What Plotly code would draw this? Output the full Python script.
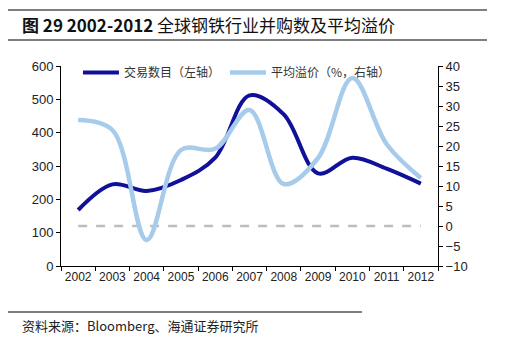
import plotly.graph_objects as go

years = ["2002", "2003", "2004", "2005", "2006", "2007", "2008", "2009", "2010", "2011", "2012"]
deals = [168, 245, 225, 258, 325, 512, 455, 278, 325, 292, 247]
premium = [26.5, 24.0, -3.5, 19.0, 19.3, 29.0, 10.5, 17.0, 37.0, 20.5, 12.0]
baseline = [0] * len(years)

dark = "#10109a"
light = "#a7cbea"
font_lat = "Liberation Sans, Arial, sans-serif"
font_cjk = "Noto Sans CJK SC, sans-serif"

fig = go.Figure()
fig.add_trace(go.Scatter(x=years, y=baseline, yaxis="y2", mode="lines",
                         line=dict(color="#bdbdbd", width=2.5, dash="dash"),
                         showlegend=False, hoverinfo="skip"))
fig.add_trace(go.Scatter(x=years, y=deals, name="交易数目（左轴）", mode="lines",
                         line=dict(color=dark, width=4, shape="spline", smoothing=1.0)))
fig.add_trace(go.Scatter(x=years, y=premium, name="平均溢价（%，右轴）", yaxis="y2", mode="lines",
                         line=dict(color=light, width=4.5, shape="spline", smoothing=1.0)))

def axis_common(size):
    return dict(showgrid=False, zeroline=False, showline=True, linecolor="black", linewidth=1,
                ticks="outside", ticklen=4, tickcolor="black",
                tickfont=dict(family=font_lat, size=size, color="#222"))

fig.update_layout(
    width=505, height=337,
    margin=dict(l=61, r=67, t=66, b=71),
    paper_bgcolor="white", plot_bgcolor="white",
    xaxis=dict(type="category", tickson="boundaries", range=[-0.5, 10.5], tickangle=0, **axis_common(12)),
    yaxis=dict(range=[0, 600], dtick=100, **axis_common(13)),
    yaxis2=dict(range=[-10, 40], dtick=5, overlaying="y", side="right", **axis_common(13)),
    legend=dict(orientation="h", x=0.045, y=1.04, yanchor="top", xanchor="left",
                font=dict(family=font_cjk, size=12, color="#333"),
                bgcolor="rgba(0,0,0,0)", itemwidth=36, traceorder="normal"),
    showlegend=True,
)

def px(x):
    return (x - 61) / 377.0

def py(y):
    return (266 - y) / 200.0

for (x0, x1, y) in [(8, 487, 10), (8, 487, 40), (8, 362, 312)]:
    fig.add_shape(type="line", xref="paper", yref="paper", x0=px(x0), x1=px(x1), y0=py(y), y1=py(y),
                  line=dict(color="black", width=1.2))

fig.add_annotation(xref="paper", yref="paper", x=px(20), y=py(25), xanchor="left", yanchor="middle",
                   text="<b>图 29 2002-2012</b> 全球钢铁行业并购数及平均溢价", showarrow=False,
                   font=dict(family=font_cjk, size=17, color="#111"))
fig.add_annotation(xref="paper", yref="paper", x=px(20), y=py(325), xanchor="left", yanchor="middle",
                   text="资料来源：Bloomberg、海通证券研究所", showarrow=False,
                   font=dict(family=font_cjk, size=13, color="#222"))

fig.write_html("out.html")
